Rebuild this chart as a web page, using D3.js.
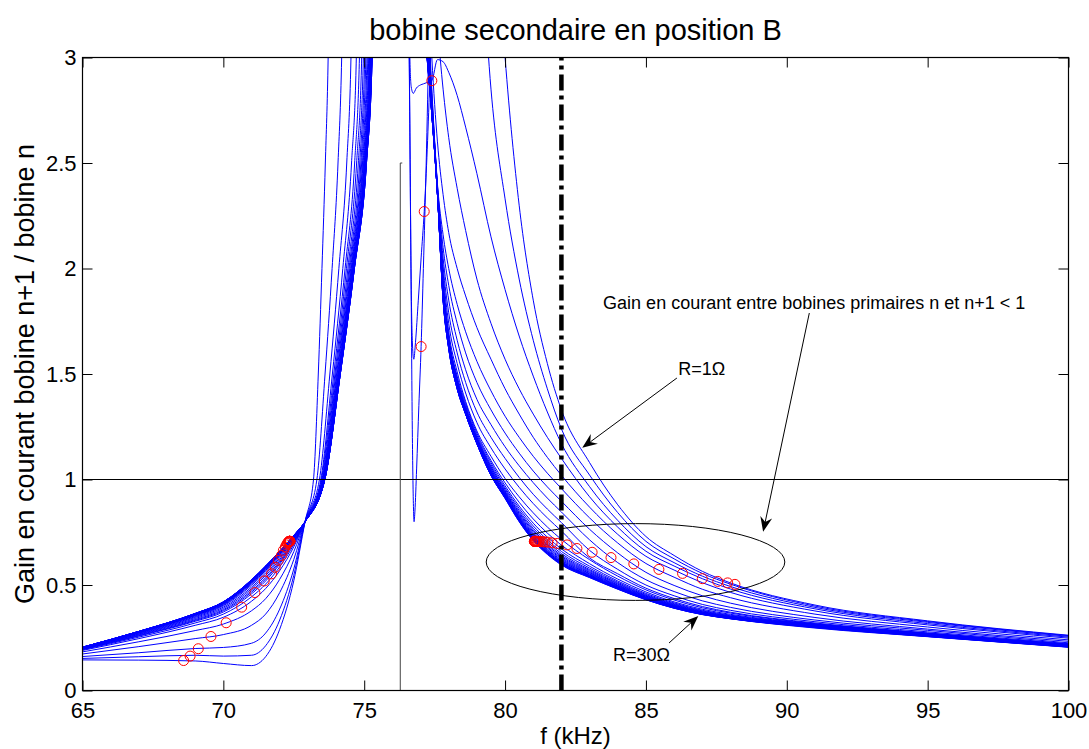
<!DOCTYPE html>
<html>
<head>
<meta charset="utf-8">
<script src="https://cdn.jsdelivr.net/npm/d3@7/dist/d3.min.js"></script>
<style>
  html, body { margin:0; padding:0; background:#ffffff; }
  svg { display:block; }
</style>
</head>
<body>
<svg id="chart" width="1089" height="749"></svg>
<script>
// ---------------- DATA ----------------
const titleText = "bobine secondaire en position B";
const xLabelText = "f (kHz)";
const yLabelText = "Gain en courant bobine n+1 / bobine n";

const xTicks = [65, 70, 75, 80, 85, 90, 95, 100];
const xTickLabels = ["65", "70", "75", "80", "85", "90", "95", "100"];
const yTicks = [0, 0.5, 1, 1.5, 2, 2.5, 3];
const yTickLabels = ["0", "0.5", "1", "1.5", "2", "2.5", "3"];

// one curve per secondary resistance (ohm)
const resistances = [1,2,3,4,5,6,7,8,9,10,11,12,13,14,15,16,17,18,19,20,21,22,23,24,25,26,27,28,29,30];

// low-frequency side (kHz) and gains read for each curve
const tailFreqs = [65, 67, 69, 70, 71, 71.5, 72, 72.5, 72.9];
const tailGains = [
  [.145,.144,.140,.128,.118,.160,.290,.520,.800],
  [.152,.160,.167,.163,.167,.212,.334,.546,.800],
  [.161,.179,.199,.204,.224,.272,.386,.576,.800],
  [.173,.208,.246,.265,.309,.362,.464,.621,.800],
  [.183,.231,.284,.315,.378,.435,.527,.658,.800],
  [.190,.246,.309,.347,.423,.483,.568,.681,.800],
  [.193,.253,.320,.362,.444,.504,.586,.692,.800],
  [.195,.258,.328,.372,.458,.519,.599,.700,.800],
  [.196,.260,.332,.378,.466,.528,.606,.704,.800],
  [.197,.263,.336,.383,.473,.535,.613,.707,.800],
  [.199,.266,.341,.389,.482,.545,.621,.712,.800],
  [.200,.268,.346,.395,.490,.553,.629,.717,.800],
  [.201,.271,.350,.401,.499,.562,.636,.721,.800],
  [.202,.273,.354,.405,.505,.569,.642,.724,.800],
  [.203,.275,.356,.408,.509,.573,.645,.726,.800],
  [.203,.276,.358,.411,.512,.576,.648,.728,.800],
  [.203,.276,.359,.412,.514,.579,.650,.729,.800],
  [.204,.277,.360,.414,.516,.581,.652,.730,.800],
  [.204,.278,.361,.415,.518,.583,.654,.731,.800],
  [.204,.278,.362,.416,.519,.584,.655,.732,.800],
  [.204,.279,.363,.417,.520,.585,.656,.733,.800],
  [.205,.279,.363,.417,.521,.586,.657,.733,.800],
  [.205,.279,.363,.418,.522,.587,.657,.734,.800],
  [.205,.279,.364,.419,.523,.588,.658,.734,.800],
  [.205,.280,.364,.419,.523,.588,.659,.734,.800],
  [.205,.280,.364,.419,.524,.589,.659,.734,.800],
  [.205,.280,.365,.419,.524,.589,.659,.735,.800],
  [.205,.280,.365,.420,.524,.589,.660,.735,.800],
  [.205,.280,.365,.420,.525,.590,.660,.735,.800],
  [.205,.280,.365,.420,.525,.590,.660,.735,.800]
];

// first resonance: frequency (kHz) at which each curve reaches these gain levels
const riseLevels = [1.0, 1.5, 2.0, 2.5, 3.0, 4.0];
const riseFreqs = [
  [73.20,73.37,73.50,73.62,73.72,73.82],
  [73.32,73.61,73.86,74.07,74.20,74.32],
  [73.41,73.78,74.10,74.38,74.53,74.65],
  [73.46,73.87,74.24,74.55,74.72,74.84],
  [73.48,73.92,74.32,74.66,74.83,74.96],
  [73.50,73.96,74.37,74.73,74.91,75.04],
  [73.52,73.99,74.42,74.79,74.97,75.10],
  [73.53,74.02,74.46,74.84,75.02,75.16],
  [73.54,74.04,74.49,74.88,75.06,75.20],
  [73.55,74.06,74.52,74.91,75.10,75.24],
  [73.56,74.08,74.54,74.94,75.13,75.27],
  [73.57,74.09,74.56,74.96,75.16,75.29],
  [73.57,74.10,74.57,74.98,75.18,75.31],
  [73.58,74.11,74.59,75.00,75.19,75.33],
  [73.58,74.11,74.60,75.01,75.21,75.35],
  [73.58,74.12,74.61,75.02,75.22,75.36],
  [73.59,74.13,74.61,75.03,75.23,75.37],
  [73.59,74.13,74.62,75.04,75.24,75.38],
  [73.59,74.13,74.63,75.05,75.25,75.39],
  [73.59,74.14,74.63,75.06,75.25,75.39],
  [73.59,74.14,74.63,75.06,75.26,75.40],
  [73.60,74.14,74.64,75.06,75.26,75.40],
  [73.60,74.14,74.64,75.07,75.27,75.41],
  [73.60,74.14,74.64,75.07,75.27,75.41],
  [73.60,74.15,74.64,75.07,75.27,75.41],
  [73.60,74.15,74.65,75.07,75.27,75.42],
  [73.60,74.15,74.65,75.08,75.28,75.42],
  [73.60,74.15,74.65,75.08,75.28,75.42],
  [73.60,74.15,74.65,75.08,75.28,75.42],
  [73.60,74.15,74.65,75.08,75.28,75.42]
];

// between the two resonances every curve is above the axis limit
const offscaleFreq = 76.0;
const offscaleGain = 6.0;

// anti-resonance dips of the three lowest resistances (R = 1, 2, 3 ohm)
const dipFreqs = [
  [76.50,76.60,76.66,76.71,76.75,76.77,76.80,76.86,76.94,77.02,77.10],
  [76.52,76.61,76.67,76.72,76.76,76.82,76.92,77.02,77.13],
  [76.55,76.62,76.67,76.74,76.85,77.00,77.10]
];
const dipGains = [
  [4.0,3.0,2.0,1.2,0.86,0.80,0.85,1.05,1.35,1.63,2.00],
  [4.0,2.8,1.9,1.62,1.57,1.65,1.85,2.05,2.27],
  [4.0,3.0,2.86,2.83,2.855,2.87,2.875]
];

// high-frequency side (kHz) and gains read for each curve
const descFreqs = [77.2,77.4,77.6,77.8,78.0,78.3,78.6,79.0,79.5,80.0,80.5,81.0,81.5,82.0,83.0,84.0,85.0,86.0,87.0,88.0,91.0,95.0,100.0];
const descGains = [
  [2.50,3.80,5.00,5.50,5.80,5.80,5.50,5.00,4.00,3.00,2.30,1.85,1.55,1.33,1.08,.880,.730,.640,.565,.510,.405,.330,.262],
  [2.45,3.20,4.20,4.80,5.00,5.00,4.70,3.90,2.85,2.33,1.95,1.66,1.43,1.24,1.021,.843,.707,.624,.555,.504,.400,.327,.260],
  [2.88,2.89,2.99,2.98,2.93,2.82,2.67,2.45,2.15,1.90,1.68,1.49,1.32,1.17,.966,.806,.682,.606,.542,.493,.394,.323,.257],
  [4.00,3.50,3.15,2.85,2.62,2.38,2.18,1.95,1.74,1.57,1.43,1.31,1.20,1.10,.918,.774,.660,.590,.530,.481,.387,.317,.253],
  [3.60,3.00,2.60,2.35,2.17,2.00,1.87,1.72,1.57,1.43,1.31,1.20,1.105,1.02,.869,.740,.636,.571,.511,.465,.377,.311,.248],
  [3.40,2.85,2.40,2.16,2.00,1.83,1.70,1.56,1.42,1.30,1.20,1.11,1.03,.957,.818,.699,.602,.537,.480,.440,.362,.301,.240],
  [3.33,2.83,2.39,2.10,1.92,1.74,1.60,1.46,1.33,1.22,1.125,1.04,.965,.897,.764,.652,.560,.498,.449,.414,.346,.291,.233],
  [3.27,2.81,2.39,2.05,1.85,1.66,1.52,1.38,1.26,1.155,1.065,.985,.912,.846,.714,.606,.525,.469,.425,.394,.334,.285,.226],
  [3.22,2.80,2.38,2.01,1.79,1.60,1.46,1.32,1.20,1.10,1.01,.930,.860,.796,.664,.574,.500,.449,.408,.380,.326,.278,.222],
  [3.18,2.79,2.38,1.98,1.74,1.55,1.41,1.27,1.15,1.05,.963,.886,.818,.756,.628,.553,.485,.436,.398,.371,.320,.273,.220],
  [3.15,2.78,2.37,1.95,1.70,1.51,1.37,1.23,1.11,1.005,.918,.842,.775,.716,.620,.542,.477,.429,.392,.367,.317,.271,.218],
  [3.13,2.77,2.37,1.93,1.68,1.49,1.36,1.22,1.09,.984,.892,.813,.746,.689,.601,.528,.467,.420,.385,.361,.315,.270,.217],
  [3.11,2.76,2.36,1.91,1.67,1.48,1.35,1.21,1.08,.970,.874,.793,.727,.671,.589,.519,.460,.415,.380,.357,.314,.269,.216],
  [3.10,2.76,2.36,1.90,1.66,1.47,1.34,1.20,1.07,.960,.863,.780,.714,.659,.580,.513,.455,.411,.377,.354,.313,.268,.216],
  [3.10,2.75,2.36,1.90,1.66,1.47,1.34,1.20,1.06,.953,.853,.769,.704,.649,.573,.508,.451,.408,.374,.352,.312,.267,.215],
  [3.09,2.75,2.36,1.89,1.65,1.46,1.33,1.19,1.06,.946,.845,.761,.695,.641,.568,.504,.448,.405,.372,.350,.311,.266,.214],
  [3.08,2.75,2.36,1.88,1.65,1.46,1.33,1.19,1.05,.941,.839,.754,.688,.635,.563,.500,.446,.403,.371,.349,.310,.265,.214],
  [3.08,2.74,2.36,1.88,1.64,1.45,1.33,1.19,1.05,.937,.833,.747,.681,.629,.559,.497,.443,.401,.369,.348,.309,.264,.213],
  [3.07,2.74,2.36,1.87,1.64,1.45,1.32,1.18,1.04,.933,.828,.741,.676,.624,.555,.495,.441,.399,.368,.346,.308,.263,.212],
  [3.07,2.74,2.35,1.87,1.64,1.45,1.32,1.18,1.04,.929,.823,.736,.670,.619,.552,.492,.439,.398,.366,.345,.307,.262,.212],
  [3.07,2.74,2.35,1.87,1.63,1.44,1.32,1.18,1.04,.926,.819,.732,.666,.615,.549,.490,.438,.396,.365,.344,.306,.262,.211],
  [3.06,2.74,2.35,1.86,1.63,1.44,1.32,1.18,1.03,.923,.816,.728,.662,.611,.546,.488,.436,.395,.364,.344,.305,.261,.210],
  [3.06,2.74,2.35,1.86,1.63,1.44,1.32,1.18,1.03,.920,.813,.725,.659,.608,.544,.487,.435,.394,.364,.343,.304,.260,.210],
  [3.06,2.73,2.35,1.86,1.63,1.44,1.31,1.18,1.03,.919,.811,.722,.657,.606,.543,.486,.434,.394,.363,.342,.303,.259,.209],
  [3.06,2.73,2.35,1.86,1.63,1.44,1.31,1.17,1.03,.917,.809,.720,.654,.604,.541,.485,.433,.393,.362,.342,.302,.258,.208],
  [3.06,2.73,2.35,1.86,1.62,1.43,1.31,1.17,1.02,.915,.806,.717,.652,.602,.540,.483,.433,.392,.362,.341,.301,.258,.208],
  [3.05,2.73,2.35,1.85,1.62,1.43,1.31,1.17,1.02,.914,.805,.716,.651,.600,.539,.483,.432,.392,.361,.341,.300,.257,.207],
  [3.05,2.73,2.35,1.85,1.62,1.43,1.31,1.17,1.02,.913,.804,.714,.649,.599,.538,.482,.431,.391,.361,.341,.299,.256,.206],
  [3.05,2.73,2.35,1.85,1.62,1.43,1.31,1.17,1.02,.911,.801,.712,.647,.596,.536,.481,.431,.390,.360,.340,.298,.256,.206],
  [3.05,2.73,2.35,1.85,1.62,1.43,1.31,1.17,1.02,.910,.800,.710,.645,.595,.535,.480,.430,.390,.360,.340,.296,.255,.205]
];

// red circle markers (kHz, gain)
const leftMarkerF = [68.59,68.82,69.11,69.56,70.10,70.65,71.12,71.45,71.71,71.84,71.95,72.06,72.13,72.20,72.24,72.27,72.29,72.31,72.32,72.33,72.34,72.34,72.35,72.35,72.35,72.36,72.36,72.36,72.36,72.36];
const leftMarkerG = [.142,.163,.198,.256,.321,.395,.464,.519,.553,.584,.617,.640,.664,.680,.690,.697,.700,.703,.705,.706,.707,.707,.707,.707,.707,.707,.707,.707,.707,.707];
const midMarkerF = [77.02, 77.13, 77.40];
const midMarkerG = [1.63, 2.27, 2.89];
const rightMarkerF = [88.16,87.90,87.55,87.00,86.30,85.46,84.57,83.76,83.09,82.55,82.20,81.85,81.67,81.52,81.42,81.35,81.29,81.24,81.20,81.17,81.14,81.12,81.10,81.08,81.07,81.06,81.05,81.05,81.04,81.04];
const rightMarkerG = [.503,.510,.517,.530,.555,.574,.600,.630,.655,.673,.690,.697,.700,.703,.704,.705,.705,.706,.706,.706,.707,.707,.707,.707,.707,.707,.707,.707,.707,.707];

// reference lines and annotations (data units)
const unityGain = 1;
const cursorFreq = 82.0;
const refLineFreq = 76.28;
const refLineTop = 2.5;
const ellipseCenter = [84.63, 0.609];
const ellipseRadii = [5.30, 0.182];
const noteText = "Gain en courant entre bobines primaires n et n+1 < 1";
const notePos = [83.48, 1.808];
const noteArrow = [[90.80, 1.789], [89.16, 0.752]];
const r1Text = "R=1\u03A9";
const r1Pos = [86.15, 1.496];
const r1Arrow = [[86.10, 1.481], [82.74, 1.150]];
const r30Text = "R=30\u03A9";
const r30Pos = [83.83, 0.139];
const r30Arrow = [[85.82, 0.225], [86.86, 0.353]];

// ---------------- DRAWING ----------------
const FONT = "'Liberation Sans', Arial, Helvetica, sans-serif";
const svg = d3.select("#chart");
svg.append("rect").attr("width", 1089).attr("height", 749).attr("fill", "#ffffff");

const x = d3.scaleLinear().domain([65, 100]).range([82.5, 1068.5]);
const y = d3.scaleLinear().domain([0, 3]).range([690.5, 57.5]);

svg.append("defs").append("clipPath").attr("id", "plotClip")
  .append("rect")
  .attr("x", x(65)).attr("y", y(3))
  .attr("width", x(100) - x(65)).attr("height", y(0) - y(3));

const curves = resistances.map((r, i) => {
  const pts = [];
  tailFreqs.forEach((f, j) => pts.push([f, tailGains[i][j]]));
  riseLevels.forEach((g, j) => pts.push([riseFreqs[i][j], g]));
  pts.push([offscaleFreq, offscaleGain]);
  if (i < dipFreqs.length) dipFreqs[i].forEach((f, j) => pts.push([f, dipGains[i][j]]));
  descFreqs.forEach((f, j) => pts.push([f, descGains[i][j]]));
  pts.sort((a, b) => a[0] - b[0]);
  return { r, pts };
});

const line = d3.line()
  .x(d => x(d[0]))
  .y(d => y(d[1]))
  .curve(d3.curveMonotoneX);

const plot = svg.append("g").attr("clip-path", "url(#plotClip)");
plot.selectAll("path.curve").data(curves).join("path")
  .attr("class", "curve")
  .attr("d", d => line(d.pts))
  .attr("fill", "none")
  .attr("stroke", "#0000ff")
  .attr("stroke-width", 1);

// horizontal unity-gain line
plot.append("line")
  .attr("x1", x(65)).attr("x2", x(100))
  .attr("y1", y(unityGain)).attr("y2", y(unityGain))
  .attr("stroke", "#000").attr("stroke-width", 1);

// thin vertical reference line
plot.append("path")
  .attr("d", `M${x(refLineFreq)},${y(0)}V${y(refLineTop)}h2`)
  .attr("fill", "none").attr("stroke", "#444").attr("stroke-width", 1);

// ellipse
svg.append("ellipse")
  .attr("cx", x(ellipseCenter[0])).attr("cy", y(ellipseCenter[1]))
  .attr("rx", x(ellipseCenter[0] + ellipseRadii[0]) - x(ellipseCenter[0]))
  .attr("ry", y(ellipseCenter[1] - ellipseRadii[1]) - y(ellipseCenter[1]))
  .attr("fill", "none").attr("stroke", "#000").attr("stroke-width", 1);

// markers
const markers = [];
leftMarkerF.forEach((f, i) => markers.push([f, leftMarkerG[i]]));
midMarkerF.forEach((f, i) => markers.push([f, midMarkerG[i]]));
rightMarkerF.forEach((f, i) => markers.push([f, rightMarkerG[i]]));
svg.append("g").selectAll("circle").data(markers).join("circle")
  .attr("cx", d => x(d[0])).attr("cy", d => y(d[1])).attr("r", 5)
  .attr("fill", "none").attr("stroke", "#ff0000").attr("stroke-width", 1);

// thick dash-dot cursor line
svg.append("line")
  .attr("x1", x(cursorFreq)).attr("x2", x(cursorFreq))
  .attr("y1", y(0)).attr("y2", y(3))
  .attr("stroke", "#000").attr("stroke-width", 4.5)
  .attr("stroke-dasharray", "16,5,4,5");

// axes (inward ticks, MATLAB box style)
function styleAxis(g) {
  g.select(".domain").remove();
  g.attr("font-family", FONT).attr("font-size", 22).attr("color", "#000");
  g.selectAll(".tick line").attr("stroke", "#000");
}
svg.append("g").attr("transform", `translate(0,${y(0)})`)
  .call(d3.axisBottom(x).tickValues(xTicks).tickFormat((d, i) => xTickLabels[i])
    .tickSizeInner(-10).tickSizeOuter(0).tickPadding(12))
  .call(styleAxis);
svg.append("g").attr("transform", `translate(0,${y(3)})`)
  .call(d3.axisTop(x).tickValues(xTicks).tickFormat(() => "")
    .tickSizeInner(-10).tickSizeOuter(0))
  .call(styleAxis);
svg.append("g").attr("transform", `translate(${x(65)},0)`)
  .call(d3.axisLeft(y).tickValues(yTicks).tickFormat((d, i) => yTickLabels[i])
    .tickSizeInner(-10).tickSizeOuter(0).tickPadding(6))
  .call(styleAxis);
svg.append("g").attr("transform", `translate(${x(100)},0)`)
  .call(d3.axisRight(y).tickValues(yTicks).tickFormat(() => "")
    .tickSizeInner(-10).tickSizeOuter(0))
  .call(styleAxis);

svg.append("rect")
  .attr("x", x(65)).attr("y", y(3))
  .attr("width", x(100) - x(65)).attr("height", y(0) - y(3))
  .attr("fill", "none").attr("stroke", "#000").attr("stroke-width", 1.2);

// titles
svg.append("text").attr("x", (x(65) + x(100)) / 2).attr("y", 40)
  .attr("text-anchor", "middle").attr("font-family", FONT).attr("font-size", 29)
  .text(titleText);
svg.append("text").attr("x", (x(65) + x(100)) / 2).attr("y", 744)
  .attr("text-anchor", "middle").attr("font-family", FONT).attr("font-size", 24)
  .text(xLabelText);
svg.append("text")
  .attr("transform", `translate(34,${(y(0) + y(3)) / 2}) rotate(-90)`)
  .attr("text-anchor", "middle").attr("font-family", FONT).attr("font-size", 27)
  .text(yLabelText);

// annotations
const ann = svg.append("g");
function drawArrow(p1, p2) {
  const x1 = x(p1[0]), y1 = y(p1[1]), x2 = x(p2[0]), y2 = y(p2[1]);
  const dx = x2 - x1, dy = y2 - y1, len = Math.hypot(dx, dy);
  const ux = dx / len, uy = dy / len, px = -uy, py = ux;
  const L = 15, W = 6, N = 10;
  ann.append("line").attr("x1", x1).attr("y1", y1)
    .attr("x2", x2 - ux * N).attr("y2", y2 - uy * N)
    .attr("stroke", "#000").attr("stroke-width", 1);
  const pts = [[x2, y2], [x2 - ux * L + px * W, y2 - uy * L + py * W],
               [x2 - ux * N, y2 - uy * N], [x2 - ux * L - px * W, y2 - uy * L - py * W]];
  ann.append("path").attr("d", "M" + pts.map(p => p.join(",")).join("L") + "Z").attr("fill", "#000");
}
function drawNote(txt, pos) {
  ann.append("text").attr("x", x(pos[0])).attr("y", y(pos[1]))
    .attr("font-family", FONT).attr("font-size", 18).text(txt);
}
drawNote(noteText, notePos);
drawArrow(noteArrow[0], noteArrow[1]);
drawNote(r1Text, r1Pos);
drawArrow(r1Arrow[0], r1Arrow[1]);
drawNote(r30Text, r30Pos);
drawArrow(r30Arrow[0], r30Arrow[1]);
</script>
</body>
</html>
